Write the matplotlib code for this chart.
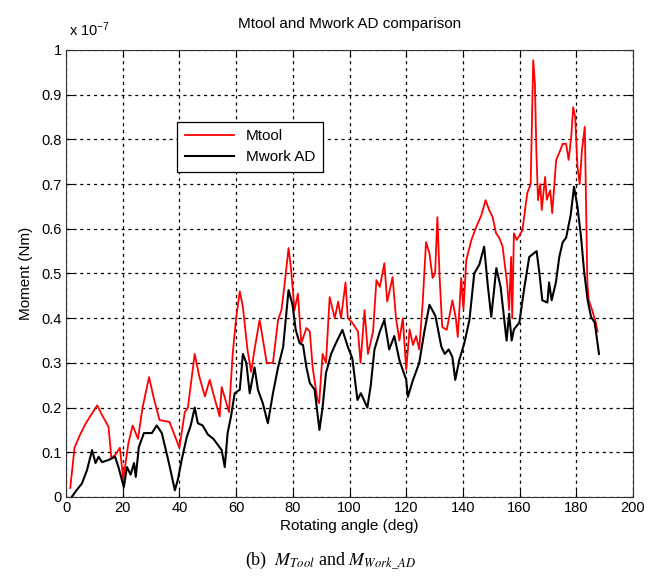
import matplotlib
matplotlib.use("Agg")
import matplotlib.pyplot as plt

# Values in units of 1e-7 Nm
tool_angle = [1.5, 3, 5, 7, 9, 11, 13, 15, 16, 17.5, 19, 20.2, 22, 23.5, 25.4, 27, 29.3, 31, 33, 36.5,
              40, 41.9, 43, 45.4, 47, 49, 50.7, 52, 54.2, 54.9, 57.5, 58.8, 60, 61.3, 62.4, 64, 65.3,
              66.5, 68.3, 69, 70.8, 73, 74.8, 76, 77, 78.5, 79.3, 80.6, 81.8, 82.4, 83, 84.8, 86, 87,
              88.7, 89.3, 90.5, 91.7, 93, 94.8, 96, 97, 98.6, 99.4, 101, 103, 103.9, 105.3, 106.5,
              108.3, 109.5, 110.7, 112.3, 113.3, 115.2, 116.4, 117.6, 118.8, 120, 121.2, 122.4, 123.5,
              124.6, 125.8, 127, 128.2, 129.3, 130.2, 131, 131.8, 132.7, 134.3, 136.3, 137.5, 138.2,
              139.4, 140.2, 141.2, 143, 144.7, 146.5, 148, 149.4, 150.5, 151.7, 152.8, 154, 155.6,
              156.3, 157, 157.4, 158, 159, 161, 162.7, 163.9, 164.8, 165.4, 165.9, 166.5, 167.3, 167.8,
              169, 169.6, 170.8, 171.5, 172.9, 174, 175.2, 176.4, 177.3, 178.2, 178.9, 179.6, 180.4,
              181.2, 182, 183, 183.5, 183.9, 184.4, 185.6, 186.9, 187.5]
tool_value = [0.02, 0.11, 0.14, 0.165, 0.185, 0.205, 0.18, 0.157, 0.087, 0.095, 0.11, 0.04, 0.12, 0.16,
              0.13, 0.2, 0.268, 0.22, 0.172, 0.168, 0.11, 0.19, 0.2, 0.32, 0.27, 0.225, 0.262, 0.23,
              0.18, 0.246, 0.19, 0.32, 0.40, 0.46, 0.425, 0.33, 0.28, 0.33, 0.396, 0.37, 0.30, 0.30,
              0.396, 0.418, 0.47, 0.557, 0.515, 0.418, 0.455, 0.40, 0.344, 0.378, 0.37, 0.29, 0.217,
              0.21, 0.32, 0.30, 0.447, 0.40, 0.437, 0.40, 0.48, 0.40, 0.39, 0.37, 0.30, 0.418, 0.32,
              0.37, 0.485, 0.47, 0.523, 0.437, 0.492, 0.40, 0.35, 0.40, 0.285, 0.375, 0.34, 0.36, 0.33,
              0.434, 0.57, 0.545, 0.49, 0.50, 0.626, 0.49, 0.38, 0.374, 0.44, 0.40, 0.358, 0.49, 0.42,
              0.53, 0.575, 0.604, 0.63, 0.664, 0.64, 0.626, 0.59, 0.58, 0.56, 0.478, 0.418, 0.537,
              0.40, 0.59, 0.575, 0.597, 0.68, 0.70, 0.977, 0.925, 0.776, 0.664, 0.70, 0.642, 0.716,
              0.665, 0.686, 0.635, 0.754, 0.77, 0.79, 0.79, 0.754, 0.805, 0.872, 0.85, 0.74, 0.70,
              0.776, 0.828, 0.626, 0.478, 0.44, 0.418, 0.39, 0.37]

work_angle = [2, 3.7, 5.6, 7.4, 9.2, 10.4, 11.5, 12.7, 15.1, 17.3, 18.5, 20.4, 21.5, 22.8, 24, 24.6,
              25.7, 27.5, 30.3, 32, 33.8, 36.3, 38.4, 39.5, 40.8, 42.6, 44, 45.4, 46.5, 48.2, 50, 52,
              54.9, 56, 57, 58.2, 59.5, 61.3, 62.4, 63.6, 64.8, 66.5, 67.7, 69.4, 71.2, 73, 74.8, 76.6,
              78.5, 79.9, 81, 82.4, 83.6, 84.8, 86, 87.7, 89.4, 90.5, 91.7, 93.5, 95.2, 97.5, 99.4,
              101, 102.8, 104, 106.3, 107.5, 108.8, 110.7, 112.3, 114, 115.8, 117.6, 120, 120.6, 122.3,
              124.6, 126.4, 128.2, 130.3, 132.4, 133.6, 135, 136.3, 137.3, 138.7, 140.5, 142.3, 144,
              145.8, 147.5, 148.7, 150, 151.8, 153.3, 154.6, 155.4, 156.3, 157.2, 158, 159.9, 161.7,
              163.4, 164.6, 166, 167, 168, 169.8, 170.4, 171.3, 172.8, 174, 175.2, 176.4, 178, 179.2,
              180.4, 181.7, 182.7, 184, 185.2, 186.5, 188]
work_value = [0.0, 0.015, 0.03, 0.06, 0.105, 0.076, 0.09, 0.078, 0.083, 0.09, 0.067, 0.022, 0.067, 0.05,
              0.076, 0.045, 0.112, 0.143, 0.143, 0.16, 0.143, 0.076, 0.015, 0.04, 0.083, 0.134, 0.16,
              0.20, 0.165, 0.16, 0.14, 0.13, 0.105, 0.067, 0.143, 0.18, 0.232, 0.24, 0.32, 0.30, 0.232,
              0.29, 0.24, 0.21, 0.165, 0.232, 0.29, 0.336, 0.463, 0.43, 0.375, 0.344, 0.34, 0.29, 0.255,
              0.24, 0.15, 0.20, 0.277, 0.32, 0.344, 0.374, 0.336, 0.31, 0.217, 0.232, 0.20, 0.25, 0.33,
              0.37, 0.396, 0.33, 0.36, 0.306, 0.262, 0.224, 0.26, 0.30, 0.37, 0.43, 0.405, 0.336, 0.32,
              0.33, 0.313, 0.262, 0.306, 0.344, 0.396, 0.50, 0.52, 0.56, 0.478, 0.403, 0.512, 0.47,
              0.396, 0.35, 0.41, 0.35, 0.375, 0.39, 0.47, 0.537, 0.543, 0.55, 0.50, 0.44, 0.435, 0.48,
              0.44, 0.48, 0.537, 0.57, 0.58, 0.63, 0.694, 0.65, 0.58, 0.508, 0.44, 0.403, 0.39, 0.32]

x_ticks = [0, 20, 40, 60, 80, 100, 120, 140, 160, 180, 200]
y_ticks = [0, 0.1, 0.2, 0.3, 0.4, 0.5, 0.6, 0.7, 0.8, 0.9, 1]
y_tick_labels = ["0", "0.1", "0.2", "0.3", "0.4", "0.5", "0.6", "0.7", "0.8", "0.9", "1"]

plt.rcParams['font.family'] = ['Liberation Sans', 'DejaVu Sans']
plt.rcParams['mathtext.fontset'] = 'stix'

fig = plt.figure(figsize=(6.62, 5.81), dpi=100)
ax = fig.add_axes([0.0997, 0.1446, 0.8565, 0.7694])

ax.plot(tool_angle, tool_value, color='#ff0000', lw=1.3, label='Mtool')
ax.plot(work_angle, work_value, color='black', lw=1.5, label='Mwork AD')

ax.set_xlim(0, 200)
ax.set_ylim(0, 1)
ax.set_xticks(x_ticks)
ax.set_yticks(y_ticks)
ax.set_yticklabels(y_tick_labels)
ax.tick_params(direction='in', top=True, right=True, labelsize=10.5, length=5, width=0.8, pad=3)
ax.grid(True, color='black', linestyle=(0, (2.5, 3)), lw=0.9)
for s in ax.spines.values():
    s.set_linewidth(0.8)
    s.set_color('#333333')

ax.set_xlabel('Rotating angle (deg)', fontsize=11, labelpad=3)
ax.set_ylabel('Moment (Nm)', fontsize=11, labelpad=6)
ax.set_title('Mtool and Mwork AD comparison', fontsize=11, pad=16)
ax.text(0.005, 1.025, r'x 10$^{\mathregular{-7}}$', transform=ax.transAxes, fontsize=10.5,
        ha='left', va='bottom')

leg = ax.legend(loc='upper left', bbox_to_anchor=(0.183, 0.857), fontsize=11, frameon=True,
                fancybox=False, framealpha=1, edgecolor='black', handlelength=3.2,
                borderpad=0.5, labelspacing=0.45)
leg.get_frame().set_linewidth(0.9)

fig.text(0.5, 0.035, r'(b)  $M_{Tool}$ and $M_{Work\_AD}$', ha='center', va='center',
         fontsize=13, family='Liberation Serif')

fig.savefig('out.png', dpi=100)
